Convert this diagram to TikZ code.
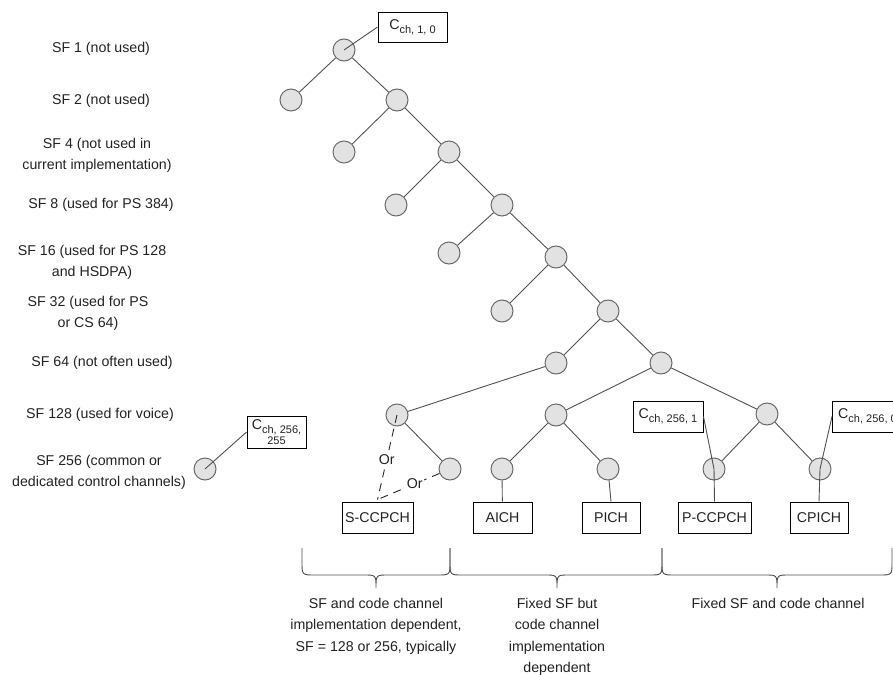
\documentclass[tikz,border=0pt]{standalone}
\usepackage{fontspec}
\setmainfont{Liberation Sans}
\usetikzlibrary{calc}
\definecolor{ink}{HTML}{222222}
\definecolor{edge}{HTML}{505050}
\definecolor{disc}{HTML}{E2E2E2}
\definecolor{discline}{HTML}{6A6A6A}

% channelisation-code tag: C with a smaller lowered index
\newcommand{\Cch}[1]{C\raisebox{-0.3em}{\fontsize{11}{11}\selectfont #1}}

\begin{document}
\begin{tikzpicture}[x=1pt,y=-1pt,
  code/.style={circle, draw=discline, fill=disc, line width=1pt, minimum size=22pt, inner sep=0pt},
  sflabel/.style={align=center, font=\fontsize{14.2}{21}\selectfont, text=ink, inner sep=0pt},
  chanbox/.style={draw=black, line width=0.9pt, minimum height=31pt, inner sep=0pt, font=\fontsize{14.2}{17}\selectfont, text=ink},
  tagbox/.style={draw=black, line width=0.9pt, inner sep=0pt, font=\fontsize{14.2}{17}\selectfont, text=ink},
  branch/.style={draw=edge, line width=0.9pt},
  tagline/.style={draw=edge, line width=0.9pt},
  alt/.style={draw=black!85, line width=0.9pt, dash pattern=on 8pt off 6pt},
  orlabel/.style={fill=white, inner sep=1pt, font=\fontsize{14.2}{17}\selectfont, text=ink},
  bracket/.style={draw=edge, line width=0.9pt},
  note/.style={align=center, font=\fontsize{14.2}{21.5}\selectfont, text=ink, inner sep=0pt, anchor=north},
]
\useasboundingbox (0,0) rectangle (893,674);

% spreading-factor captions
\node[sflabel] (sf1)   at (101,49)  {SF 1 (not used)};
\node[sflabel] (sf2)   at (101,101) {SF 2 (not used)};
\node[sflabel] (sf4)   at (97,155)  {SF 4 (not used in\\current implementation)};
\node[sflabel] (sf8)   at (101,205) {SF 8 (used for PS 384)};
\node[sflabel] (sf16)  at (92,262)  {SF 16 (used for PS 128\\and HSDPA)};
\node[sflabel] (sf32)  at (88,313)  {SF 32 (used for PS\\or CS 64)};
\node[sflabel] (sf64)  at (102,363) {SF 64 (not often used)};
\node[sflabel] (sf128) at (100,415) {SF 128 (used for voice)};
\node[sflabel] (sf256) at (99,472)  {SF 256 (common or\\dedicated control channels)};

% code tree
\node[code] (r)  at (344,50)  {};
\node[code] (a1) at (291,100) {};
\node[code] (a2) at (397,100) {};
\node[code] (b1) at (344,152) {};
\node[code] (b2) at (449,152) {};
\node[code] (c1) at (396,205) {};
\node[code] (c2) at (502,205) {};
\node[code] (d1) at (449,253) {};
\node[code] (d2) at (556,257) {};
\node[code] (e1) at (502,311) {};
\node[code] (e2) at (608,311) {};
\node[code] (f1) at (556,363) {};
\node[code] (f2) at (661,363) {};
\node[code] (g1) at (397,415) {};
\node[code] (g2) at (556,415) {};
\node[code] (g3) at (767,414) {};
\node[code] (h0) at (205,469) {};
\node[code] (h1) at (450,469) {};
\node[code] (h2) at (502,469) {};
\node[code] (h3) at (608,469) {};
\node[code] (h4) at (714,469) {};
\node[code] (h5) at (820,469) {};

\foreach \p/\q in {r/a1, r/a2, a2/b1, a2/b2, b2/c1, b2/c2, c2/d1, c2/d2,
                   d2/e1, d2/e2, e2/f1, e2/f2, f1/g1, f2/g2, f2/g3,
                   g1/h1, g2/h2, g2/h3, g3/h4, g3/h5}
  \draw[branch] (\p) -- (\q);

% physical channels
\node[chanbox, minimum width=71pt] (sccpch) at (377.5,517.5) {S-CCPCH};
\node[chanbox, minimum width=59pt] (aich)   at (502.5,517.5) {AICH};
\node[chanbox, minimum width=58pt] (pich)   at (611,517.5)   {PICH};
\node[chanbox, minimum width=73pt] (pccpch) at (714.5,517.5) {P-CCPCH};
\node[chanbox, minimum width=58pt] (cpich)  at (819,517.5)   {CPICH};

\draw[branch] (h2) -- (aich);
\draw[branch] (h3) -- (pich.north);
\draw[branch] (h4.center) -- (pccpch.north);
\draw[branch] (h5.center) -- (cpich.north);

% code tags
\node[tagbox, minimum width=69pt, minimum height=30pt] (troot) at (412.5,27) {\Cch{ch, 1, 0}};
\node[tagbox, minimum width=59pt, minimum height=32pt, align=center,
      font=\fontsize{14.2}{13}\selectfont] (t255) at (276.5,432)
      {\Cch{ch, 256,}\\{\fontsize{11}{11}\selectfont 255}};
\node[tagbox, minimum width=70pt, minimum height=31pt] (t1) at (668,416.5) {\Cch{ch, 256, 1}};
\node[tagbox, minimum width=70pt, minimum height=31pt, anchor=west] (t0) at (832,416.5) {\Cch{ch, 256, 0}};

\draw[tagline] (troot.west) -- (r.center);
\draw[tagline] (t255.west) -- (h0.center);
\draw[tagline] (t1.east) -- (h4.center);
\draw[tagline] (t0.west) -- (h5.center);

% alternative S-CCPCH codes
\coordinate (join) at ($(sccpch.north)+(0,-2)$);
\draw[alt] (g1.center) -- node[orlabel, pos=0.53] (or1) {Or} (join);
\draw[alt] (h1) -- node[orlabel, pos=0.4] (or2) {Or} (join);

% grouping braces
\foreach \a/\m/\b in {302/376/450, 450/557/662, 662/777/892}
  \draw[bracket] (\a,548) -- (\a,562) .. controls (\a,575) .. (\a+13,575)
    -- (\m-12,575) .. controls (\m,575) .. (\m,588)
    .. controls (\m,575) .. (\m+12,575)
    -- (\b-13,575) .. controls (\b,575) .. (\b,562) -- (\b,548);

\node[note] (n1) at (376,598) {SF and code channel\\implementation dependent,\\SF = 128 or 256, typically};
\node[note] (n2) at (557,598) {Fixed SF but\\code channel\\implementation\\dependent};
\node[note] (n3) at (778,598) {Fixed SF and code channel};
\end{tikzpicture}
\end{document}
